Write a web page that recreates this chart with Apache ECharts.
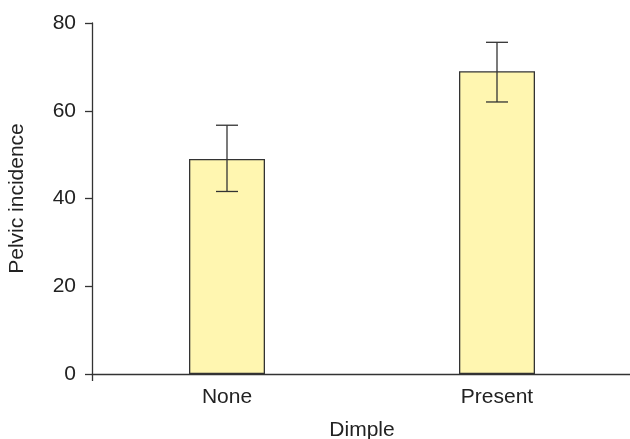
<!DOCTYPE html>
<html><head><meta charset="utf-8">
<script src="https://cdn.jsdelivr.net/npm/echarts@6/dist/echarts.min.js"></script>
<style>html,body{margin:0;padding:0;background:#fff;overflow:hidden}#c{width:630px;height:439px}</style>
</head><body><div id="c"></div>
<script>
const categories = ['None', 'Present'];
const means = [49.0, 69.0];
const errLow = [41.6, 62.0];
const errHigh = [56.7, 75.6];
const yTicks = [0, 20, 40, 60, 80];

const chart = echarts.init(document.getElementById('c'), null, {renderer: 'canvas'});
const axisColor = '#333';
const txt = '#222';
const font = 'Liberation Sans, Arial, sans-serif';
const fs = 21;
chart.setOption({
  animation: false,
  grid: {left: 92, top: 23, width: 540, height: 351, containLabel: false, outerBoundsMode: 'none'},
  xAxis: {
    type: 'category', data: categories,
    name: 'Dimple', nameLocation: 'middle', nameGap: 46,
    nameTextStyle: {color: txt, fontSize: fs, fontFamily: font},
    axisLine: {lineStyle: {color: axisColor, width: 1.3}},
    axisTick: {show: true, length: 7, interval: function (i) { return i === 0; }, lineStyle: {color: axisColor, width: 1.3}},
    axisLabel: {color: txt, fontSize: fs, fontFamily: font, margin: 13}
  },
  yAxis: {
    type: 'value', min: yTicks[0], max: yTicks[yTicks.length - 1], interval: 20,
    name: 'Pelvic incidence', nameLocation: 'middle', nameGap: 64, nameRotate: 90,
    nameTextStyle: {color: txt, fontSize: fs, fontFamily: font},
    axisLine: {show: true, lineStyle: {color: axisColor, width: 1.3}},
    axisTick: {show: true, length: 7, lineStyle: {color: axisColor, width: 1.3}},
    axisLabel: {color: txt, fontSize: fs, fontFamily: font, margin: 16},
    splitLine: {show: false}
  },
  series: [
    {
      type: 'bar', data: means, barWidth: 76,
      itemStyle: {color: '#fff6b0', borderColor: '#333', borderWidth: 1.3}
    },
    {
      type: 'custom',
      data: categories.map((c, i) => [i, errLow[i], errHigh[i]]),
      renderItem: function (params, api) {
        const x = api.value(0);
        const lo = api.coord([x, api.value(1)]);
        const hi = api.coord([x, api.value(2)]);
        const hw = 11;
        const st = {stroke: '#333', lineWidth: 1.3};
        return {type: 'group', children: [
          {type: 'line', shape: {x1: lo[0], y1: lo[1], x2: hi[0], y2: hi[1]}, style: st},
          {type: 'line', shape: {x1: lo[0] - hw, y1: lo[1], x2: lo[0] + hw, y2: lo[1]}, style: st},
          {type: 'line', shape: {x1: hi[0] - hw, y1: hi[1], x2: hi[0] + hw, y2: hi[1]}, style: st}
        ]};
      },
      z: 10
    }
  ]
});
</script></body></html>
